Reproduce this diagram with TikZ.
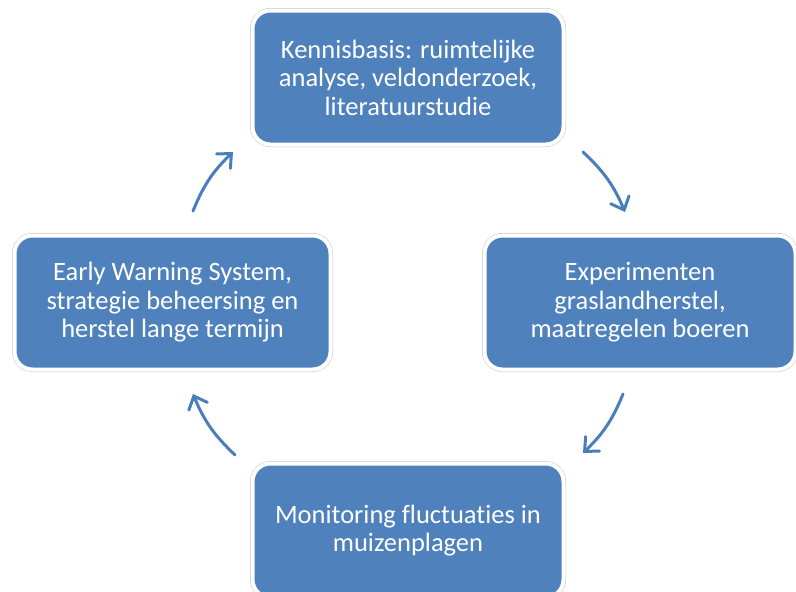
\documentclass[tikz,border=0pt]{standalone}
\usepackage{fontspec}
\setmainfont{Carlito}[Ligatures=NoCommon]
\usepackage{xcolor}
\usetikzlibrary{arrows.meta,positioning}
\definecolor{boxblue}{HTML}{4F81BD}
\definecolor{arrowblue}{HTML}{4A7EBB}

\begin{document}
\begin{tikzpicture}[
    x=1pt, y=1pt,
    cyclebox/.style={rectangle, rounded corners=18pt, fill=boxblue, draw=white, line width=4pt,
        preaction={draw=black!22, line width=5pt}, minimum width=311pt, minimum height=134pt,
        align=center, text=white, font=\fontsize{26.5}{28.5}\selectfont},
    cyclearrow/.style={draw=arrowblue, line width=3pt, line cap=round,
        -{Straight Barb[length=11pt, width=20pt, line cap=round]}}
]
\useasboundingbox (0,0) rectangle (796,-592);
\node[cyclebox] (kennis) at (408,-77.5) {Kennisbasis: ruimtelijke\\analyse, veldonderzoek,\\literatuurstudie};
\node[cyclebox] (exper) at (640,-302.5) {Experimenten\\graslandherstel,\\maatregelen boeren};
\node[cyclebox, below=315pt of kennis] (monitor) {Monitoring fluctuaties in\\muizenplagen};
\node[cyclebox, minimum width=316pt] (warning) at (172.5,-302.5) {Early Warning System,\\strategie beheersing en\\herstel lange termijn};
\coordinate (a1s) at (583,-152);
\coordinate (a1e) at (625,-212);
\coordinate (a2s) at (623,-394);
\coordinate (a2e) at (583,-453);
\coordinate (a3s) at (235,-455);
\coordinate (a3e) at (193,-394);
\coordinate (a4s) at (193,-211);
\coordinate (a4e) at (233,-152);
\draw[cyclearrow] (a1s) to[bend left=12] (a1e);
\draw[cyclearrow] (a2s) to[bend left=12] (a2e);
\draw[cyclearrow] (a3s) to[bend left=12] (a3e);
\draw[cyclearrow] (a4s) to[bend left=12] (a4e);
\end{tikzpicture}
\end{document}
